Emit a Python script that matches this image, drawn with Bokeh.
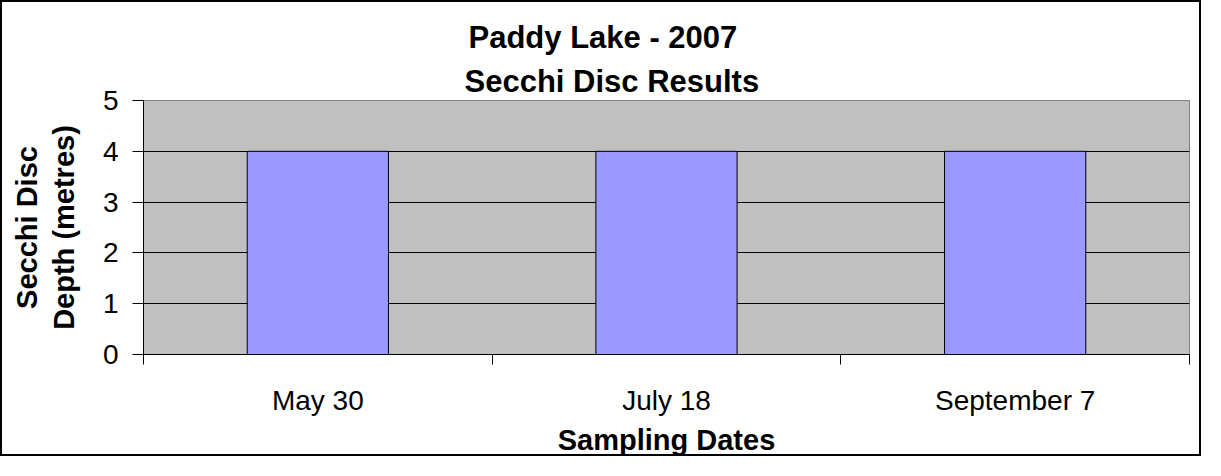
from bokeh.plotting import figure
from bokeh.models import Title, FixedTicker, Range1d
from bokeh.embed import file_html
from bokeh.resources import INLINE

# ---- data ----
dates = ["May 30", "July 18", "September 7"]
depths = [4, 4, 4]
y_ticks = [0, 1, 2, 3, 4, 5]
title_lines = ["Paddy Lake - 2007", "Secchi Disc Results"]
x_title = "Sampling Dates"
y_title = "Secchi Disc\nDepth (metres)"

n = len(dates)
xs = [i + 0.5 for i in range(n)]
FONT = "Liberation Sans"

p = figure(width=1201, height=456, x_range=Range1d(0, n), y_range=Range1d(0, 5),
           output_backend="svg", toolbar_location=None, title=None,
           min_border_left=141, min_border_right=14, min_border_top=98, min_border_bottom=103,
           background_fill_color="#C0C0C0", border_fill_color="white",
           outline_line_color="#808080", outline_line_width=1)
p.styles = {"border": "2px solid black"}

p.vbar(x=xs, top=depths, bottom=0, width=0.405, fill_color="#9999FF",
       line_color="black", line_width=1)

# grid
p.xgrid.visible = False
p.ygrid.ticker = FixedTicker(ticks=y_ticks[1:-1])
p.ygrid.grid_line_color = "black"
p.ygrid.grid_line_width = 1

# y axis
ya = p.yaxis[0]
ya.ticker = FixedTicker(ticks=y_ticks)
ya.major_tick_out = 11
ya.major_tick_in = 0
ya.minor_tick_out = 0
ya.minor_tick_in = 0
ya.axis_line_color = "black"
ya.major_tick_line_color = "black"
ya.major_label_text_font = FONT
ya.major_label_text_font_size = "28px"
ya.major_label_text_color = "black"
ya.major_label_standoff = 14
ya.axis_label = y_title
ya.axis_label_text_font = FONT
ya.axis_label_text_font_size = "29px"
ya.axis_label_text_font_style = "bold"
ya.axis_label_text_color = "black"
ya.axis_label_text_line_height = 1.15
ya.axis_label_standoff = 20

# x axis
xa = p.xaxis[0]
xa.ticker = FixedTicker(ticks=xs, minor_ticks=list(range(n + 1)))
xa.major_label_overrides = {x: d for x, d in zip(xs, dates)}
xa.major_tick_out = 0
xa.major_tick_in = 0
xa.minor_tick_out = 10
xa.minor_tick_in = 0
xa.minor_tick_line_color = "black"
xa.axis_line_color = "black"
xa.major_label_text_font = FONT
xa.major_label_text_font_size = "28px"
xa.major_label_text_color = "black"
xa.major_label_standoff = 20
xa.axis_label = x_title
xa.axis_label_text_font = FONT
xa.axis_label_text_font_size = "29px"
xa.axis_label_text_font_style = "bold"
xa.axis_label_text_color = "black"
xa.axis_label_standoff = 5

# titles (closest to plot added first)
t2 = Title(text=title_lines[1], align="left", offset=321, standoff=3,
           text_font=FONT, text_font_size="31px", text_font_style="bold", text_color="black")
t1 = Title(text=title_lines[0], align="left", offset=325, standoff=11,
           text_font=FONT, text_font_size="31px", text_font_style="bold", text_color="black")
p.add_layout(t2, "above")
p.add_layout(t1, "above")

open("out.html", "w").write(file_html(p, INLINE))
